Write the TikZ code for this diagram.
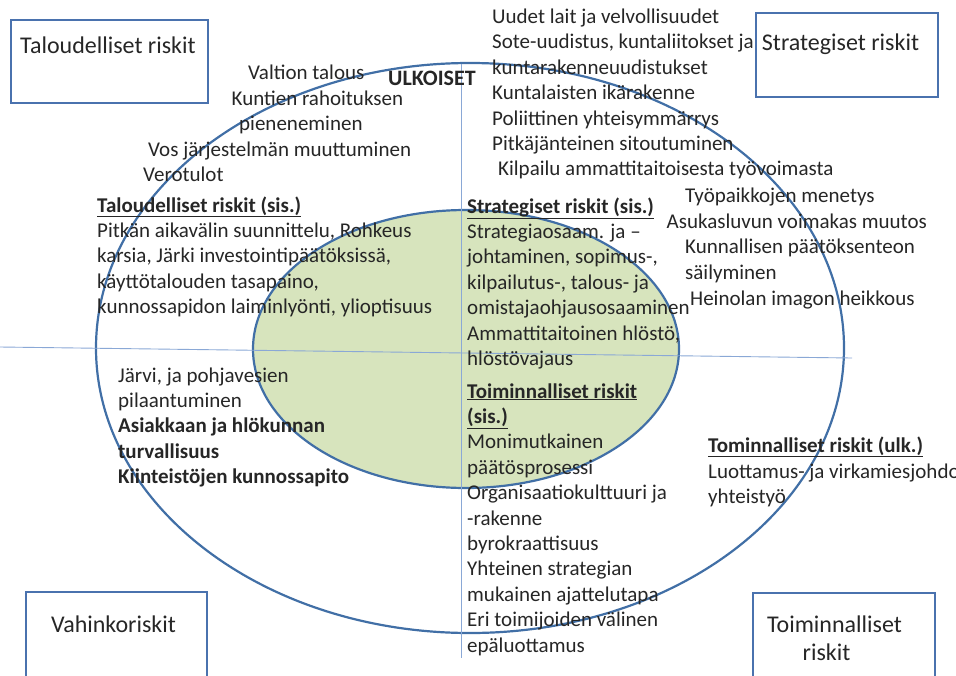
\documentclass[tikz,border=0pt]{standalone}
\usepackage{fontspec}
\setmainfont{Carlito}
\definecolor{ringblue}{HTML}{416FA6}
\definecolor{axisblue}{HTML}{8AA8D6}
\definecolor{boxblue}{HTML}{4A72AE}
\definecolor{corefill}{HTML}{D7E4BD}
\definecolor{ink}{HTML}{262626}
\tikzset{
  ring/.style={draw=ringblue, line width=2.2pt},
  axis/.style={draw=axisblue, line width=0.9pt},
  riskbox/.style={draw=boxblue, line width=2pt, rectangle, inner sep=0pt},
  boxtxt/.style={font=\fontsize{24}{29}\selectfont, text=ink, inner sep=0pt, anchor=base},
  txt/.style={font=\fontsize{21}{25}\selectfont, text=ink, inner sep=0pt, anchor=base west},
}
% one left-aligned line per entry, fixed line pitch
\newcommand\riskblock[4]{%
  \foreach [count=\i] \t in {#4} {\node[txt] (#1\i) at (#2, {#3+25.4*(\i-1)}) {\t};}}
\newcommand\hd[1]{\underline{\textbf{#1}}}
\begin{document}
\begin{tikzpicture}[x=1pt,y=-1pt]
\useasboundingbox (0,0) rectangle (956,675);

% rings
\draw[ring, fill=white] (470,348) ellipse [x radius=374, y radius=285];
\draw[ring, fill=corefill] (466,349) ellipse [x radius=213, y radius=139];

% quadrant axes
\coordinate (vtop) at (461,64);
\coordinate (vbot) at (461,658);
\coordinate (hleft) at (0,347);
\coordinate (hright) at (852,358);
\draw[axis] (vtop) -- (vbot);
\draw[axis] (hleft) -- (hright);

% corner boxes
\node[riskbox, minimum width=197pt, minimum height=83pt] (boxTal) at (109.5,61.5) {};
\node[boxtxt] (lblTal) at (108,53) {Taloudelliset riskit};
\node[riskbox, minimum width=182pt, minimum height=84pt] (boxStr) at (847,55) {};
\node[boxtxt] (lblStr) at (840.5,50) {Strategiset riskit};
\node[riskbox, minimum width=181pt, minimum height=100pt] (boxVah) at (116.5,642) {};
\node[boxtxt] (lblVah) at (113.5,632) {Vahinkoriskit};
\node[riskbox, minimum width=182pt, minimum height=100pt] (boxToi) at (844,643) {};
\node[boxtxt] (lblToi) at (834.5,632) {Toiminnalliset};
\node[boxtxt] (lblToiB) at (826.5,660) {riskit};

% external, economic
\node[txt, font=\fontsize{22}{25}\selectfont\bfseries] (ulk) at (388,85) {ULKOISET};
\foreach \x/\y/\t [count=\i] in {248/79/Valtion talous, 231.5/105/Kuntien rahoituksen,
    239/130/pieneneminen, 148/156.5/Vos järjestelmän muuttuminen, 143/181.5/Verotulot}
  {\node[txt] (ext\i) at (\x,\y) {\t};}

% external, strategic
\riskblock{str}{492}{23.5}{Uudet lait ja velvollisuudet, {Sote-uudistus, kuntaliitokset ja},
  kuntarakenneuudistukset, Kuntalaisten ikärakenne, Poliittinen yhteisymmärrys,
  Pitkäjänteinen sitoutuminen}
\node[txt] (kilp) at (498,175) {Kilpailu ammattitaitoisesta työvoimasta};
\foreach \x/\y/\t [count=\i] in {685/202/Työpaikkojen menetys, 666.5/228/Asukasluvun voimakas muutos,
    685/253.5/Kunnallisen päätöksenteon, 685/279/säilyminen, 690/305/Heinolan imagon heikkous}
  {\node[txt] (ext2\i) at (\x,\y) {\t};}

% internal, economic
\riskblock{tal}{97}{212}{\hd{Taloudelliset riskit (sis.)}, {Pitkän aikavälin suunnittelu, Rohkeus},
  {karsia, Järki investointipäätöksissä,}, {käyttötalouden tasapaino,},
  {kunnossapidon laiminlyönti, ylioptisuus}}

% internal, strategic
\riskblock{sis}{467}{213}{\hd{Strategiset riskit (sis.)}, Strategiaosaam. ja –,
  {johtaminen, sopimus-,}, {kilpailutus-, talous- ja}, omistajaohjausosaaminen,
  {Ammattitaitoinen hlöstö,}, hlöstövajaus}

% internal, operational
\riskblock{toi}{467}{398}{\hd{Toiminnalliset riskit}, \hd{(sis.)}, Monimutkainen, päätösprosessi,
  Organisaatiokulttuuri ja, -rakenne, byrokraattisuus, Yhteinen strategian,
  mukainen ajattelutapa, Eri toimijoiden välinen, epäluottamus}

% damage risks
\riskblock{vah}{118}{382}{{Järvi, ja pohjavesien}, pilaantuminen, \textbf{Asiakkaan ja hlökunnan},
  \textbf{turvallisuus}, \textbf{Kiinteistöjen kunnossapito}}

% external, operational
\node[txt] (ulkA) at (708,452) {\hd{Tominnalliset riskit (ulk.)}};
\node[txt] (ulkB) at (708,478) {Luottamus- ja virkamiesjohdon};
\node[txt] (ulkC) at (708,503) {yhteistyö};
\end{tikzpicture}
\end{document}
